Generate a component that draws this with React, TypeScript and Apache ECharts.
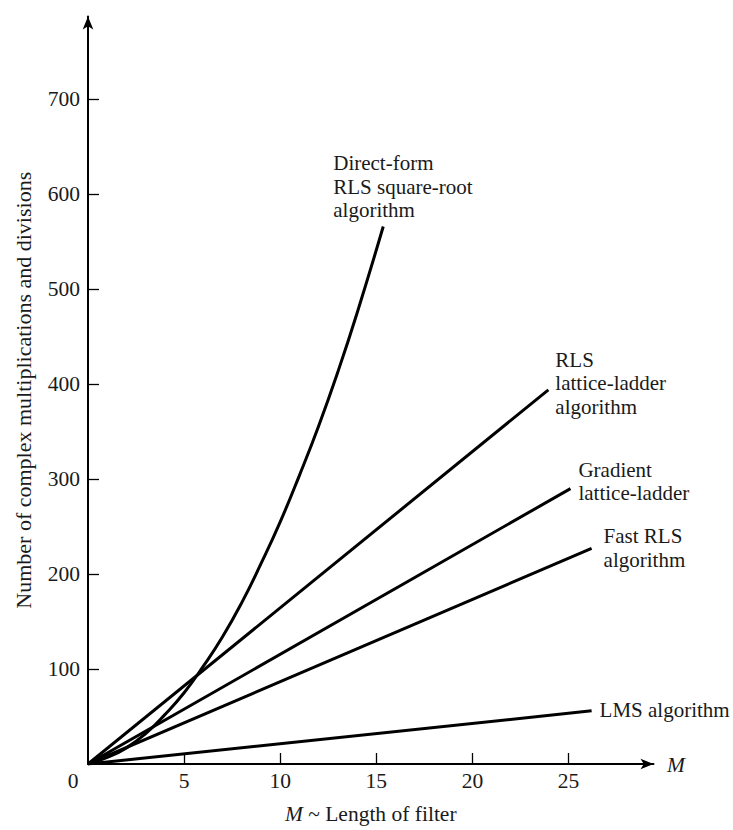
import React, { useEffect, useRef } from "react";
import * as echarts from "echarts";

// Filter length M and operation counts
const directM = [0, 1, 2, 3, 4, 5, 6, 7, 8, 9, 10, 11, 12, 13, 14, 15.36];
const directVals = [0, 7, 17, 32, 52, 75, 103, 134, 170, 211, 255, 304, 356, 413, 475, 566];
const rlsLatticeM = [0, 23.95];
const rlsLatticeVals = [0, 394];
const gradientM = [0, 25.1];
const gradientVals = [0, 290];
const fastRlsM = [0, 26.2];
const fastRlsVals = [0, 227];
const lmsM = [0, 26.2];
const lmsVals = [0, 56];

const labelTexts = [
  "Direct-form\nRLS square-root\nalgorithm",
  "RLS\nlattice-ladder\nalgorithm",
  "Gradient\nlattice-ladder",
  "Fast RLS\nalgorithm",
  "LMS algorithm",
];
const labelOffsets: [number, number][] = [
  [-50, -75],
  [7, -42],
  [8, -30.5],
  [12, -24],
  [8, -13],
];

const xTicks = [5, 10, 15, 20, 25];
const xLabels = [0, 5, 10, 15, 20, 25];
const yTicks = [100, 200, 300, 400, 500, 600, 700];

const FONT = "'Liberation Serif', 'Times New Roman', serif";
const TEXT = "#1a1a1a";

function buildSeries(ms: number[], vals: number[], idx: number, smooth: boolean) {
  const data = ms.map((m, i) => {
    const item: any = { value: [m, vals[i]], symbolSize: 0.01 };
    if (i === ms.length - 1) {
      item.label = {
        show: true,
        formatter: labelTexts[idx],
        position: labelOffsets[idx],
        align: "left",
        verticalAlign: "top",
        fontFamily: FONT,
        fontSize: 21,
        lineHeight: 23.5,
        color: TEXT,
        opacity: 1,
      };
    }
    return item;
  });
  return {
    type: "line",
    data,
    smooth,
    showSymbol: true,
    symbol: "circle",
    symbolSize: 0.01,
    silent: true,
    itemStyle: { color: "#000" },
    lineStyle: { color: "#000", width: 3 },
    label: { show: false },
    labelLayout: { hideOverlap: false },
    emphasis: { disabled: true },
    z: 3,
  };
}

export default function App() {
  const ref = useRef<HTMLDivElement>(null);
  useEffect(() => {
    if (!ref.current) return;
    const chart = echarts.init(ref.current, undefined, { renderer: "svg" });
    chart.setOption({
      animation: false,
      backgroundColor: "#fff",
      grid: { left: 88, right: 79.5, top: 16.5, bottom: 65.7, containLabel: false },
      xAxis: {
        type: "value",
        min: 0,
        max: 29.42,
        name: "{i|M} ~ Length of filter",
        nameLocation: "middle",
        nameGap: 39,
        nameTextStyle: {
          fontFamily: FONT,
          fontSize: 21.5,
          color: TEXT,
          rich: {
            i: { fontFamily: FONT, fontSize: 21.5, fontStyle: "italic", color: TEXT },
          },
        },
        axisLine: {
          show: true,
          onZero: false,
          symbol: ["none", "arrow"],
          symbolSize: [8, 13],
          lineStyle: { color: "#000", width: 2 },
        },
        axisTick: {
          show: true,
          inside: true,
          length: 11,
          customValues: xTicks,
          lineStyle: { color: "#000", width: 1.3 },
        },
        axisLabel: {
          show: true,
          customValues: xLabels,
          margin: 6,
          fontFamily: FONT,
          fontSize: 21.5,
          color: TEXT,
          formatter: (v: number) => (v === 0 ? "{z|0}" : String(v)),
          rich: {
            z: { fontFamily: FONT, fontSize: 21.5, color: TEXT, padding: [0, 30, 0, 0] },
          },
        },
        splitLine: { show: false },
      },
      yAxis: {
        type: "value",
        min: 0,
        max: 787.2,
        name: "Number of complex multiplications and divisions",
        nameLocation: "middle",
        nameGap: 54,
        nameTextStyle: { fontFamily: FONT, fontSize: 22, color: TEXT },
        axisLine: {
          show: true,
          onZero: false,
          symbol: ["none", "arrow"],
          symbolSize: [8, 13],
          lineStyle: { color: "#000", width: 2 },
        },
        axisTick: {
          show: true,
          inside: true,
          length: 11,
          customValues: yTicks,
          lineStyle: { color: "#000", width: 1.3 },
        },
        axisLabel: {
          show: true,
          customValues: yTicks,
          margin: 8,
          fontFamily: FONT,
          fontSize: 21.5,
          color: TEXT,
        },
        splitLine: { show: false },
      },
      graphic: [
        {
          type: "text",
          left: 667,
          top: 754,
          style: {
            text: "M",
            fontFamily: FONT,
            fontSize: 21.5,
            fontStyle: "italic",
            fill: TEXT,
          },
        },
      ],
      series: [
        buildSeries(directM, directVals, 0, true),
        buildSeries(rlsLatticeM, rlsLatticeVals, 1, false),
        buildSeries(gradientM, gradientVals, 2, false),
        buildSeries(fastRlsM, fastRlsVals, 3, false),
        buildSeries(lmsM, lmsVals, 4, false),
      ],
    });
    return () => chart.dispose();
  }, []);
  return (
    <div
      ref={ref}
      style={{ position: "absolute", left: 0, top: 0, width: 733, height: 830 }}
    />
  );
}
